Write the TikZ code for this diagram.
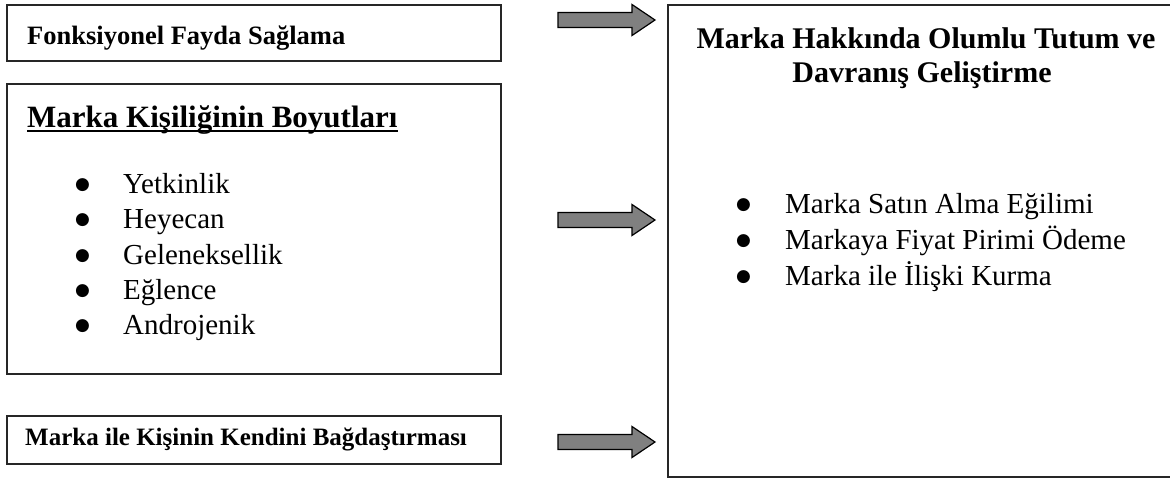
\documentclass[tikz,border=0pt]{standalone}
\usepackage{fontspec}
\setmainfont{Liberation Serif}
\newfontfamily\dejavu{DejaVu Sans}
\usetikzlibrary{calc}
\tikzset{
  boxline/.style={draw=black!85, line width=1.8pt},
  blockarrow/.style={draw=black, line width=1.2pt, fill=black!50, line join=miter},
  txt/.style={inner sep=0pt, anchor=base west},
  ctxt/.style={inner sep=0pt, anchor=base},
}
\newcommand{\bfA}{\fontsize{26.5}{30}\selectfont\bfseries}
\newcommand{\bfT}{\fontsize{31}{36}\selectfont\bfseries}
\newcommand{\bfR}{\fontsize{30}{34}\selectfont\bfseries}
\newcommand{\bfC}{\fontsize{25}{30}\selectfont\bfseries}
\newcommand{\rmI}{\fontsize{29}{34}\selectfont}
\newcommand{\bul}{\raisebox{3.5pt}{\dejavu\fontsize{17}{17}\selectfont ●}}
\newcommand{\myarrow}[3]{% start x, tip x, center y
  \draw[blockarrow] (#1,#3-7.5) -- (#2-23,#3-7.5) -- (#2-23,#3-15.5) -- (#2,#3)
    -- (#2-23,#3+15.5) -- (#2-23,#3+7.5) -- (#1,#3+7.5) -- cycle;}
\begin{document}
\begin{tikzpicture}[x=1pt,y=-1pt]
\useasboundingbox (0,0) rectangle (1170,477);
\clip (0,0) rectangle (1170,477);
% boxes
\node[boxline, minimum width=494pt, minimum height=56pt, anchor=north west, inner sep=0pt] (b1) at (6,4) {};
\node[boxline, minimum width=494pt, minimum height=290pt, anchor=north west, inner sep=0pt] (b2) at (6,83) {};
\node[boxline, minimum width=494pt, minimum height=48pt, anchor=north west, inner sep=0pt] (b3) at (6,415) {};
\node[boxline, minimum width=520pt, minimum height=472pt, anchor=north west, inner sep=0pt] (rb) at (667,4) {};
% texts
\node[txt] (t1) at (27,44) {\bfA Fonksiyonel Fayda Sağlama};
\node[txt] (t2) at (27,127) {\bfT Marka Kişiliğinin Boyutları};
\draw[line width=2.6pt] ($(t2.base west)+(0,4)$) -- ($(t2.base east)+(0,4)$);
\node[txt] (l1b) at (75,193) {\bul};
\node[txt] (l1) at (123,193) {\rmI Yetkinlik};
\node[txt] (l2b) at (75,228) {\bul};
\node[txt] (l2) at (123,228) {\rmI Heyecan};
\node[txt] (l3b) at (75,264) {\bul};
\node[txt] (l3) at (123,264) {\rmI Geleneksellik};
\node[txt] (l4b) at (75,299) {\bul};
\node[txt] (l4) at (123,299) {\rmI Eğlence};
\node[txt] (l5b) at (75,334) {\bul};
\node[txt] (l5) at (123,334) {\rmI Androjenik};
\node[txt] (t3) at (25,445) {\bfC Marka ile Kişinin Kendini Bağdaştırması};
\node[ctxt] (r1) at (926,48) {\bfR Marka Hakkında Olumlu Tutum ve};
\node[ctxt] (r2) at (922,82) {\bfR Davranış Geliştirme};
\node[txt] (m1b) at (736,213) {\bul};
\node[txt] (m1) at (785,213) {\rmI Marka Satın Alma Eğilimi};
\node[txt] (m2b) at (736,249) {\bul};
\node[txt] (m2) at (785,249) {\rmI Markaya Fiyat Pirimi Ödeme};
\node[txt] (m3b) at (736,285) {\bul};
\node[txt] (m3) at (785,285) {\rmI Marka ile İlişki Kurma};
% block arrows
\myarrow{558}{655}{20}
\myarrow{558}{655}{220}
\myarrow{558}{655}{442}
\end{tikzpicture}
\end{document}
